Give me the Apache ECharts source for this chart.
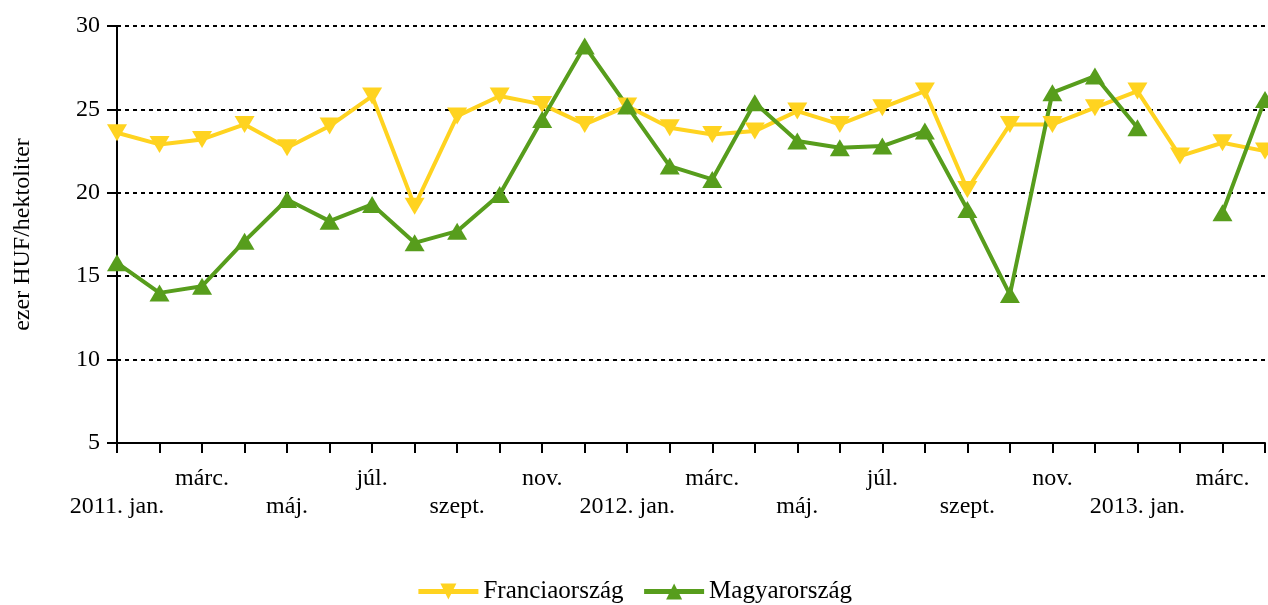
<!DOCTYPE html>
<html>
<head>
<meta charset="utf-8">
<script src="https://cdn.jsdelivr.net/npm/echarts@6/dist/echarts.min.js"></script>
<style>
  html, body { margin: 0; padding: 0; background: #fff; }
  #main { width: 1268px; height: 605px; }
</style>
</head>
<body>
<div id="main"></div>
<script>
// hónapok
var months = [
  '2011. jan.', 'febr.', 'márc.', 'ápr.', 'máj.', 'jún.', 'júl.', 'aug.', 'szept.', 'okt.', 'nov.', 'dec.',
  '2012. jan.', 'febr.', 'márc.', 'ápr.', 'máj.', 'jún.', 'júl.', 'aug.', 'szept.', 'okt.', 'nov.', 'dec.',
  '2013. jan.', 'febr.', 'márc.', 'ápr.'
];
var francia = [
  23.6, 22.9, 23.2, 24.1, 22.7, 24.0, 25.8, 19.2, 24.6, 25.8, 25.3, 24.1,
  25.2, 23.9, 23.5, 23.7, 24.9, 24.1, 25.1, 26.1, 20.2, 24.1, 24.1, 25.1,
  26.1, 22.2, 23.0, 22.5
];
var magyar = [
  15.8, 14.0, 14.4, 17.1, 19.6, 18.3, 19.3, 17.0, 17.7, 19.9, 24.4, 28.8,
  25.2, 21.6, 20.8, 25.4, 23.1, 22.7, 22.8, 23.7, 19.0, 13.9, 26.0, 27.0,
  23.9, null, 18.8, 25.6
];
var seriesNames = ['Franciaország', 'Magyarország'];

var font = 'Liberation Serif';
var chart = echarts.init(document.getElementById('main'));

var option = {
  animation: false,
  textStyle: { fontFamily: font, color: '#000' },
  grid: {
    left: 117,
    right: 0,
    top: 26,
    bottom: 162
  },
  legend: {
    top: 574,
    left: 'center',
    itemWidth: 60,
    itemHeight: 20,
    itemGap: 18,
    lineStyle: { width: 5 },
    textStyle: { fontFamily: font, fontSize: 25, color: '#000' },
    data: seriesNames
  },
  xAxis: {
    type: 'category',
    data: months,
    boundaryGap: false,
    axisLine: { lineStyle: { color: '#000', width: 2 } },
    axisTick: {
      interval: 0,
      length: 10,
      lineStyle: { color: '#000', width: 2 }
    },
    axisLabel: {
      interval: 0,
      margin: 22,
      fontFamily: font,
      fontSize: 24,
      lineHeight: 28,
      color: '#000',
      formatter: function (v, i) {
        if (i % 2) return '';
        return i % 4 === 0 ? '\n' + v : v;
      }
    },
    splitLine: { show: false }
  },
  yAxis: {
    type: 'value',
    min: 5,
    max: 30,
    interval: 5,
    name: 'ezer HUF/hektoliter',
    nameLocation: 'middle',
    nameGap: 82,
    nameTextStyle: { fontFamily: font, fontSize: 24, color: '#000' },
    axisLine: { show: true, lineStyle: { color: '#000', width: 2 } },
    axisTick: { show: true, length: 10, lineStyle: { color: '#000', width: 2 } },
    axisLabel: { fontFamily: font, fontSize: 24, color: '#000', margin: 17 },
    splitLine: {
      lineStyle: { color: '#000', width: 2, type: [4, 4] }
    }
  },
  series: [
    {
      name: seriesNames[0],
      type: 'line',
      data: francia,
      symbol: 'triangle',
      symbolRotate: 180,
      symbolSize: [20, 17],
      lineStyle: { color: '#ffd320', width: 4 },
      itemStyle: { color: '#ffd320' }
    },
    {
      name: seriesNames[1],
      type: 'line',
      data: magyar,
      symbol: 'triangle',
      symbolSize: [20, 17],
      lineStyle: { color: '#579d1c', width: 4 },
      itemStyle: { color: '#579d1c' }
    }
  ]
};

chart.setOption(option);
</script>
</body>
</html>
